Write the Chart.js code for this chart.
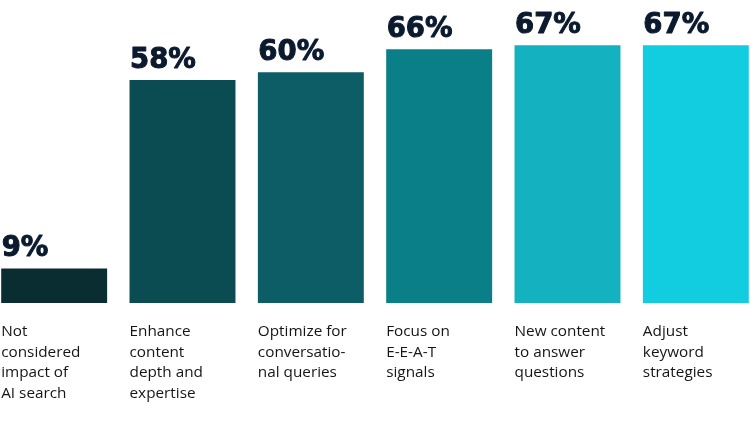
<!DOCTYPE html>
<html>
<head>
<meta charset="utf-8">
<script src="https://cdn.jsdelivr.net/npm/chart.js@4"></script>
<style>
  html, body { margin: 0; padding: 0; background: #fff; overflow: hidden; }
  body { width: 750px; height: 422px; position: relative; }
  #chart { position: absolute; left: -10px; top: 0; }
</style>
</head>
<body>
<canvas id="chart" width="770" height="422"></canvas>
<script>
'use strict';

// ─── data ───
const categories = [
  ['Not', 'considered', 'impact of', 'AI search'],
  ['Enhance', 'content', 'depth and', 'expertise'],
  ['Optimize for', 'conversatio-', 'nal queries'],
  ['Focus on', 'E-E-A-T', 'signals'],
  ['New content', 'to answer', 'questions'],
  ['Adjust', 'keyword', 'strategies'],
];
const values = [9, 58, 60, 66, 67, 67];
const barColors = ['#0a2d31', '#0b4b52', '#0c5d65', '#0b7f87', '#14b1c0', '#12cde0'];

// value labels above bars + wrapped category labels under them, left aligned
const labelPlugin = {
  id: 'barLabels',
  afterDatasetsDraw(chart) {
    const ctx = chart.ctx;
    const meta = chart.getDatasetMeta(0);
    ctx.save();
    ctx.textAlign = 'left';
    ctx.textBaseline = 'alphabetic';
    meta.data.forEach((bar, i) => {
      const left = bar.x - bar.width / 2;
      const txt = values[i] + '%';
      ctx.fillStyle = '#0b1a2e';
      ctx.strokeStyle = '#0b1a2e';
      ctx.lineWidth = 1;
      ctx.lineJoin = 'round';
      ctx.font = 'bold 27.5px "DejaVu Sans"';
      ctx.fillText(txt, left + 0.5, bar.y - 12);
      ctx.strokeText(txt, left + 0.5, bar.y - 12);

      ctx.fillStyle = '#151515';
      ctx.font = '15.3px "Open Sans"';
      categories[i].forEach((line, j) => {
        ctx.fillText(line, left, bar.base + 33 + j * 20.5);
      });
    });
    ctx.restore();
  }
};

new Chart(document.getElementById('chart'), {
  type: 'bar',
  data: {
    labels: categories.map(c => c.join(' ')),
    datasets: [{
      data: values,
      backgroundColor: barColors,
      borderWidth: 0,
      categoryPercentage: 1,
      barPercentage: 0.8255,
    }]
  },
  options: {
    responsive: false,
    animation: false,
    devicePixelRatio: 1,
    layout: { padding: { top: 3, bottom: 119, left: 0, right: 0 } },
    plugins: { legend: { display: false }, tooltip: { enabled: false } },
    scales: {
      x: { display: false },
      y: { display: false, min: 0, max: 78 }
    }
  },
  plugins: [labelPlugin]
});
</script>
</body>
</html>
